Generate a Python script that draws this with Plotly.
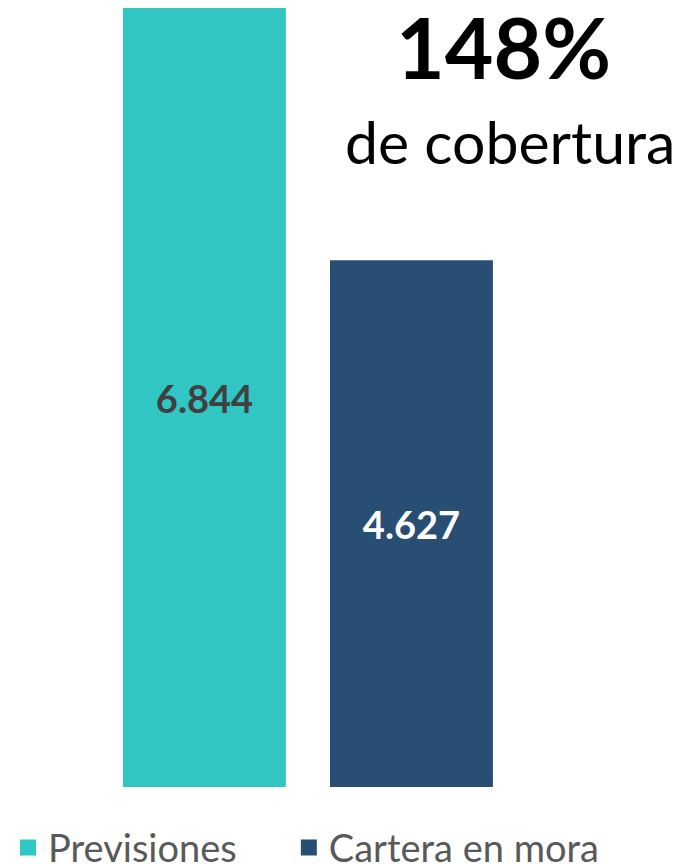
import plotly.graph_objects as go

categories = ["Previsiones", "Cartera en mora"]
values = [6844, 4627]
colors = ["#31C6C3", "#284E74"]
label_colors = ["#404040", "#FFFFFF"]
coverage = "148%"
coverage_text = "de cobertura"

legend_ids = ["legend", "legend2"]

fig = go.Figure()
for cat, val, col, lcol, leg in zip(categories, values, colors, label_colors, legend_ids):
    fig.add_trace(go.Bar(
        x=[cat], y=[val], name=cat, showlegend=False,
        marker=dict(color=col, line=dict(width=0)),
        texttemplate="%{y:,.0f}", textposition="inside",
        insidetextanchor="middle", textangle=0,
        insidetextfont=dict(family="Lato", size=38, color=lcol, weight="bold"),
    ))
    # legend entry with a bigger square than the bar default
    fig.add_trace(go.Scatter(
        x=[None], y=[None], name=cat, mode="markers", legend=leg,
        marker=dict(symbol="square", size=22, color=col),
    ))

fig.add_annotation(text="<b>" + coverage + "</b>", xref="paper", yref="paper",
                   x=0.729, y=0.950, xanchor="center", yanchor="middle", showarrow=False,
                   font=dict(family="Lato", size=84, color="#000000"))
fig.add_annotation(text=coverage_text, xref="paper", yref="paper",
                   x=0.738, y=0.829, xanchor="center", yanchor="middle", showarrow=False,
                   font=dict(family="Lato", size=59, color="#000000"))

leg_style = dict(orientation="h", xanchor="left", y=-0.0376, yanchor="top",
                 font=dict(family="Lato", size=38, color="#595959"), itemwidth=30)

fig.update_layout(
    width=680, height=864,
    margin=dict(l=0, r=0, t=0, b=85, autoexpand=False),
    plot_bgcolor="white", paper_bgcolor="white",
    barmode="overlay", bargap=0.213,
    separators=",.",
    xaxis=dict(visible=False, range=[-0.949, 2.336]),
    yaxis=dict(visible=False, range=[0, 6844]),
    legend=dict(x=0, **leg_style),
    legend2=dict(x=0.413, **leg_style),
    showlegend=True,
)

fig.write_html("out.html")
